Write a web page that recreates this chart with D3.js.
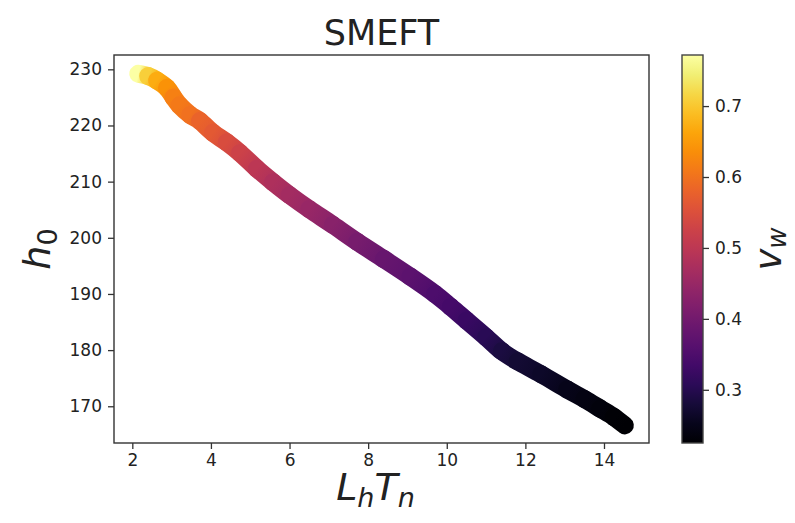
<!DOCTYPE html>
<html>
<head>
<meta charset="utf-8">
<script src="https://cdn.jsdelivr.net/npm/d3@7"></script>
<style>
  html, body { margin: 0; padding: 0; background: #fff; }
  svg { display: block; }
  text { font-family: "DejaVu Sans", sans-serif; fill: #222; }
</style>
</head>
<body>
<svg id="chart" width="795" height="523"></svg>
<script>
// ---- data ----
const lhTn = [2.15, 2.40, 2.63, 2.88, 3.05, 3.20, 3.47, 3.72, 4.05, 4.40, 4.74, 5.17, 5.58, 6.00, 6.50, 7.10, 7.72, 8.40, 9.07, 9.70, 10.10, 10.50, 11.00, 11.40, 11.80, 12.40, 13.06, 13.50, 13.90, 14.25, 14.53];
const h0   = [229.2, 228.8, 228.0, 226.7, 225.0, 223.6, 221.9, 220.8, 218.7, 217.0, 215.1, 212.3, 209.9, 207.6, 205.1, 202.3, 199.3, 196.2, 193.1, 190.0, 187.7, 185.3, 182.3, 179.8, 178.0, 175.7, 173.0, 171.3, 169.6, 168.1, 166.6];
const vw   = [0.77, 0.71, 0.67, 0.64, 0.62, 0.61, 0.60, 0.58, 0.565, 0.545, 0.525, 0.50, 0.48, 0.465, 0.45, 0.43, 0.405, 0.385, 0.37, 0.35, 0.34, 0.325, 0.305, 0.285, 0.275, 0.265, 0.25, 0.243, 0.236, 0.231, 0.227];
const xTicks = [2, 4, 6, 8, 10, 12, 14];
const yTicks = [170, 180, 190, 200, 210, 220, 230];
const cTicks = [0.3, 0.4, 0.5, 0.6, 0.7];
const xDomain = [1.534, 15.145];
const yDomain = [163.46, 232.55];
const cDomain = [0.225, 0.772];
const title = "SMEFT";

// ---- layout ----
const plot = { left: 114, top: 55, right: 649, bottom: 443 };
const cbar = { left: 682, right: 703, top: 55, bottom: 443 };

const svg = d3.select("#chart");
const x = d3.scaleLinear().domain(xDomain).range([plot.left, plot.right]);
const y = d3.scaleLinear().domain(yDomain).range([plot.bottom, plot.top]);
const cy = d3.scaleLinear().domain(cDomain).range([cbar.bottom, cbar.top]);
const color = d3.scaleSequential(d3.interpolateInferno).domain(cDomain);

const defs = svg.append("defs");

// ---- curve (thick scatter band, smooth Catmull-Rom segments) ----
const pts = lhTn.map((v, i) => ({ x: x(v), y: y(h0[i]), c: vw[i] }));
const g = svg.append("g");
const n = pts.length;
for (let i = 0; i < n - 1; i++) {
  const p0 = pts[Math.max(0, i - 1)], p1 = pts[i], p2 = pts[i + 1], p3 = pts[Math.min(n - 1, i + 2)];
  const c1x = p1.x + (p2.x - p0.x) / 6, c1y = p1.y + (p2.y - p0.y) / 6;
  const c2x = p2.x - (p3.x - p1.x) / 6, c2y = p2.y - (p3.y - p1.y) / 6;
  const id = "seg" + i;
  const lg = defs.append("linearGradient").attr("id", id)
    .attr("gradientUnits", "userSpaceOnUse")
    .attr("x1", p1.x).attr("y1", p1.y).attr("x2", p2.x).attr("y2", p2.y);
  lg.append("stop").attr("offset", 0).attr("stop-color", color(p1.c));
  lg.append("stop").attr("offset", 1).attr("stop-color", color(p2.c));
  g.append("path")
    .attr("d", `M${p1.x},${p1.y}C${c1x},${c1y} ${c2x},${c2y} ${p2.x},${p2.y}`)
    .attr("fill", "none")
    .attr("stroke", `url(#${id})`)
    .attr("stroke-width", 18)
    .attr("stroke-linecap", "round");
}

// ---- axes ----
const xAxis = svg.append("g").attr("transform", `translate(0,${plot.bottom})`)
  .call(d3.axisBottom(x).tickValues(xTicks).tickSize(6).tickPadding(5).tickFormat(d3.format("d")));
const yAxis = svg.append("g").attr("transform", `translate(${plot.left},0)`)
  .call(d3.axisLeft(y).tickValues(yTicks).tickSize(6).tickPadding(6).tickFormat(d3.format("d")));
[xAxis, yAxis].forEach(ax => {
  ax.select(".domain").remove();
  ax.selectAll("line").attr("stroke", "#333").attr("stroke-width", 1.3);
  ax.selectAll("text").attr("font-size", 17).attr("font-family", "DejaVu Sans").attr("fill", "#222");
});

svg.append("rect")
  .attr("x", plot.left).attr("y", plot.top)
  .attr("width", plot.right - plot.left).attr("height", plot.bottom - plot.top)
  .attr("fill", "none").attr("stroke", "#333").attr("stroke-width", 1.4);

// ---- colorbar ----
const cg = defs.append("linearGradient").attr("id", "cbar")
  .attr("x1", 0).attr("y1", 1).attr("x2", 0).attr("y2", 0);
d3.range(0, 1.0001, 0.05).forEach(t => {
  cg.append("stop").attr("offset", t).attr("stop-color", d3.interpolateInferno(t));
});
svg.append("rect")
  .attr("x", cbar.left).attr("y", cbar.top)
  .attr("width", cbar.right - cbar.left).attr("height", cbar.bottom - cbar.top)
  .attr("fill", "url(#cbar)").attr("stroke", "#444").attr("stroke-width", 1.4);
const cAxis = svg.append("g").attr("transform", `translate(${cbar.right},0)`)
  .call(d3.axisRight(cy).tickValues(cTicks).tickSize(6).tickPadding(6).tickFormat(d3.format(".1f")));
cAxis.select(".domain").remove();
cAxis.selectAll("line").attr("stroke", "#333").attr("stroke-width", 1.3);
cAxis.selectAll("text").attr("font-size", 17).attr("font-family", "DejaVu Sans").attr("fill", "#222");

// ---- title & labels ----
svg.append("text").attr("x", (plot.left + plot.right) / 2).attr("y", 45)
  .attr("text-anchor", "middle").attr("font-size", 35).text(title);

const xl = svg.append("text").attr("x", (plot.left + plot.right) / 2 - 6).attr("y", 500)
  .attr("text-anchor", "middle").attr("font-size", 38).attr("font-style", "italic");
xl.append("tspan").text("L");
xl.append("tspan").attr("font-size", 27).attr("dy", 7).text("h");
xl.append("tspan").attr("dy", -7).text("T");
xl.append("tspan").attr("font-size", 27).attr("dy", 7).text("n");

const yl = svg.append("text").attr("transform", `translate(50,${(plot.top + plot.bottom) / 2}) rotate(-90)`)
  .attr("text-anchor", "middle").attr("font-size", 38).attr("font-style", "italic");
yl.append("tspan").text("h");
yl.append("tspan").attr("font-size", 27).attr("dy", 7).attr("font-style", "normal").text("0");

const cl = svg.append("text").attr("transform", `translate(781,${(cbar.top + cbar.bottom) / 2}) rotate(-90)`)
  .attr("text-anchor", "middle").attr("font-size", 37).attr("font-style", "italic");
cl.append("tspan").text("v");
cl.append("tspan").attr("font-size", 26).attr("dy", 5).text("w");
</script>
</body>
</html>
